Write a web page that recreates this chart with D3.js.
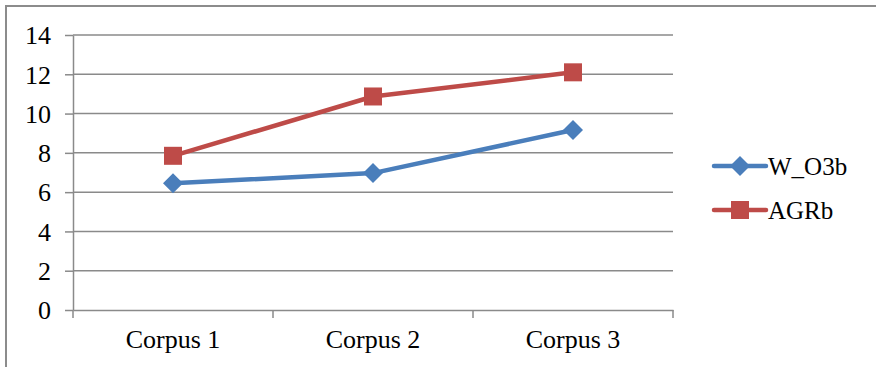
<!DOCTYPE html>
<html><head><meta charset="utf-8">
<script src="https://cdn.jsdelivr.net/npm/d3@7"></script>
<style>body{margin:0;background:#fff}svg{display:block}
svg text{font-family:"Liberation Serif","Times New Roman",serif;}</style>
</head><body>
<svg id="c" width="876" height="367"></svg>
<script>
const categories = ["Corpus 1", "Corpus 2", "Corpus 3"];
const seriesNames = ["W_O3b", "AGRb"];
const wO3b = [6.45, 6.97, 9.16];
const agrb = [7.85, 10.87, 12.1];
const yTicks = [0, 2, 4, 6, 8, 10, 12, 14];
const colors = ["#4a7ebb", "#be4b48"];

const svg = d3.select("#c");
svg.append("rect").attr("x", 6).attr("y", 6).attr("width", 900).attr("height", 400)
  .attr("fill", "none").attr("stroke", "#8c8c8c").attr("stroke-width", 2);

const L = 73, R = 673, T = 35, B = 310;
const x = d3.scaleBand().domain(categories).range([L, R]);
const y = d3.scaleLinear().domain([0, 14]).range([B, T]);

svg.append("g").selectAll("line").data(yTicks.slice(1)).join("line")
  .attr("x1", L).attr("x2", R).attr("y1", d => y(d)).attr("y2", d => y(d))
  .attr("stroke", "#8a8a8a").attr("stroke-width", 1.5);

const yAxis = svg.append("g").attr("transform", `translate(${L},0)`)
  .call(d3.axisLeft(y).tickValues(yTicks).tickSize(8).tickPadding(14).tickSizeOuter(0));
const xAxis = svg.append("g").attr("transform", `translate(0,${B})`)
  .call(d3.axisBottom(x).tickSize(0).tickPadding(20).tickSizeOuter(0));
const bounds = [L, ...categories.map(c => x(c) + x.bandwidth())];
svg.append("g").selectAll("line").data(bounds).join("line")
  .attr("x1", d => d).attr("x2", d => d).attr("y1", B).attr("y2", B + 8)
  .attr("stroke", "#8a8a8a").attr("stroke-width", 1.5);
[yAxis, xAxis].forEach(g => {
  g.attr("font-family", null).attr("font-size", null);
  g.selectAll("path,line").attr("stroke", "#8a8a8a").attr("stroke-width", 1.5);
  g.selectAll("text").style("font-size", "26px").attr("fill", "#000");
});
yAxis.selectAll("text").attr("dy", "0.34em");

const data = [wO3b, agrb];
const line = d3.line().x((d, i) => x(categories[i]) + x.bandwidth() / 2).y(d => y(d));
const diamond = (g, cx, cy, c) => g.append("path")
  .attr("d", `M${cx},${cy - 10}L${cx + 10},${cy}L${cx},${cy + 10}L${cx - 10},${cy}Z`).attr("fill", c);
const square = (g, cx, cy, c) => g.append("rect")
  .attr("x", cx - 9).attr("y", cy - 9).attr("width", 18).attr("height", 18).attr("fill", c);
const markers = [diamond, square];

data.forEach((vals, s) => {
  const g = svg.append("g");
  g.append("path").datum(vals).attr("d", line).attr("fill", "none")
    .attr("stroke", colors[s]).attr("stroke-width", 4.5).attr("stroke-linejoin", "round");
  vals.forEach((v, i) => markers[s](g, x(categories[i]) + x.bandwidth() / 2, y(v), colors[s]));
});

const legY = [166, 210];
seriesNames.forEach((n, s) => {
  const g = svg.append("g");
  g.append("line").attr("x1", 714).attr("x2", 766).attr("y1", legY[s]).attr("y2", legY[s])
    .attr("stroke", colors[s]).attr("stroke-width", 4.5).attr("stroke-linecap", "round");
  markers[s](g, 740, legY[s], colors[s]);
  g.append("text").attr("x", 768).attr("y", legY[s]).attr("dy", "0.34em")
    .style("font-size", "25px").text(n);
});
</script>
</body></html>
